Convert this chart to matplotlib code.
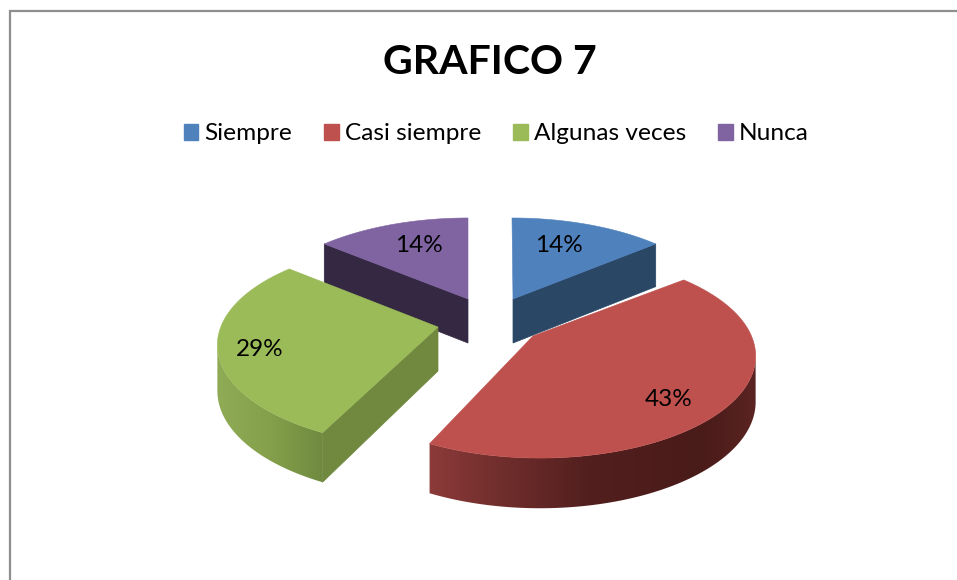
import numpy as np
import matplotlib
matplotlib.use("Agg")
import matplotlib.pyplot as plt
from matplotlib.patches import Patch, Polygon
from matplotlib.colors import to_rgb

# --- data ---
title = "GRAFICO 7"
categories = ["Siempre", "Casi siempre", "Algunas veces", "Nunca"]
values = [14, 43, 29, 14]

# --- style / layout ---
top_colors = ["#4F81BD", "#BE504D", "#9BBB59", "#8064A2"]
cut_colors = ["#2A4766", None, "#71883F", "#352842"]
arc_origins = [(512, 299), (540, 335), (433, 324), (468, 299)]
corners = [(513, 299), (533, 336), (438, 327), (468, 299)]
label_pos = [(559, 246), (669, 399), (260, 349), (419, 246)]
cut_side = ["end", None, "start", "start"]   # which radial face is visible
red_wall = [(430, "#8C3A3A"), (500, "#702E2C"), (590, "#521F1E"), (700, "#491B19"), (756, "#5A2422")]
green_wall = [(218, "#8FAB55"), (270, "#84A04B"), (325, "#6F8A3F")]
wall_stops = [None, red_wall, green_wall, None]
draw_order = [3, 0, 2, 1]

K, C, P = 211.0, 97.7, 0.206   # perspective projection of the pie plane
DEPTH = 45.0

def project(theta_deg, origin):
    t = np.radians(theta_deg)
    w = 1 + P * np.cos(t)
    x = origin[0] + K * np.sin(t) / w
    y = origin[1] - C * np.cos(t) / w
    d = DEPTH + 20 * (1 / w - 1)
    return x, y, d

fig = plt.figure(figsize=(9.57, 5.8), dpi=100, facecolor="white")
ax = fig.add_axes([0, 0, 1, 1])
ax.axis("off")

# chart frame
ax.plot([10, 10, 957], [580, 11, 11], color="#8E8E8E", lw=1.6, solid_joinstyle="miter", zorder=1)

fracs = np.array(values, dtype=float) / sum(values) * 360
ends = np.cumsum(fracs)
starts = ends - fracs

z = 2
for i in draw_order:
    th = np.linspace(starts[i], ends[i], 361)
    corner = corners[i]
    x, y, d = project(th, arc_origins[i])
    # outer wall with a horizontal gradient: only the front-facing stretch of the rim
    stops = wall_stops[i]
    if stops is not None:
        xs = [s[0] for s in stops]
        rgb = np.array([to_rgb(s[1]) for s in stops])
        a, b = int(np.argmax(x)), int(np.argmin(x)) + 1
        fx, fy, fd = x[a:b], y[a:b], d[a:b]
        px = np.arange(np.floor(fx.min()), np.ceil(fx.max()) + 1)
        grad = np.stack([np.interp(px, xs, rgb[:, k]) for k in range(3)], axis=-1)[None, :, :]
        outline = np.vstack([np.column_stack([fx, fy]), np.column_stack([fx, fy + fd])[::-1]])
        clip = Polygon(outline, closed=True, transform=ax.transData, fc="none", ec="none")
        ax.add_patch(clip)
        im = ax.imshow(grad, extent=(px[0], px[-1], outline[:, 1].max() + 1, outline[:, 1].min() - 1),
                       aspect="auto", interpolation="bilinear", zorder=z)
        im.set_clip_path(clip)
        z += 1
    # radial cut face
    if cut_side[i] is not None:
        k = 0 if cut_side[i] == "start" else -1
        ax.add_patch(Polygon([corner, (x[k], y[k]), (x[k], y[k] + d[k]), (corner[0], corner[1] + DEPTH - 1)],
                             closed=True, fc=cut_colors[i], ec=cut_colors[i], lw=0.5, zorder=z))
        z += 1
    # top face
    ax.add_patch(Polygon(np.vstack([[corner], np.column_stack([x, y])]), closed=True,
                         fc=top_colors[i], ec=top_colors[i], lw=0.4, zorder=z))
    z += 1

ax.set_xlim(0, 957)
ax.set_ylim(580, 0)
ax.set_aspect("auto")

font = "Lato"
for v, (lx, ly) in zip(values, label_pos):
    ax.text(lx, ly, f"{v}%", ha="center", va="center", fontsize=17.5, family=font, color="black", zorder=50)

ax.text(490, 62, title, ha="center", va="center", fontsize=29.5, fontweight="bold", family=font, color="black")

handles = [Patch(fc=c, ec=c) for c in top_colors]
ax.legend(handles, categories, loc="center", bbox_to_anchor=(496 / 957, 1 - 134 / 580), ncol=4, frameon=False,
          prop={"family": font, "size": 17.6}, handlelength=0.6, handleheight=0.6,
          handletextpad=0.24, columnspacing=1.31, borderpad=0, labelspacing=0)

fig.savefig("out.png", dpi=100)
